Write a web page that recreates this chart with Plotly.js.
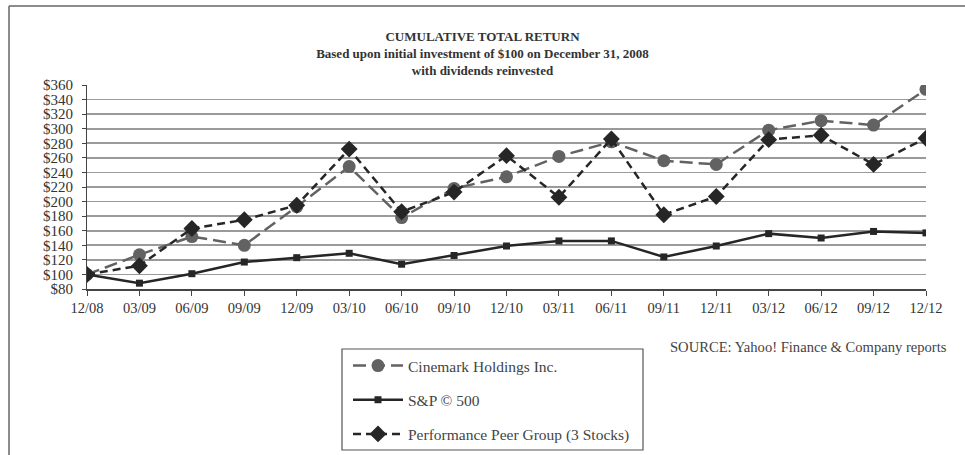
<!DOCTYPE html>
<html>
<head>
<meta charset="utf-8">
<script src="https://cdn.plot.ly/plotly-3.0.1.min.js"></script>
<style>
html,body{margin:0;padding:0;background:#fff;}
#chart{width:965px;height:455px;}
</style>
</head>
<body>
<div id="chart"></div>
<script>
const periods = ["12/08","03/09","06/09","09/09","12/09","03/10","06/10","09/10","12/10","03/11","06/11","09/11","12/11","03/12","06/12","09/12","12/12"];
const cinemark = [100,127,152,140,193,248,178,218,234,262,282,256,251,298,311,305,354];
const sp500 = [100,88,101,117,123,129,114,126,139,146,146,124,139,156,150,159,157];
const peerGroup = [100,112,163,175,195,272,186,213,263,206,286,182,207,285,291,251,287];
const yTickVals = [80,100,120,140,160,180,200,220,240,260,280,300,320,340,360];
const yTickText = yTickVals.map(v => "$" + v);

const W = 965, H = 455;
const L = 87, R = 926, T = 85, B = 289;
const px = x => (x - L) / (R - L);
const py = y => (B - y) / (B - T);

const serif = "Liberation Serif, Times New Roman, serif";

const traces = [
  {
    x: periods, y: cinemark, name: "Cinemark Holdings Inc.", type: "scatter", mode: "lines+markers",
    line: {color: "#626262", width: 2.5, dash: "13px,6px"},
    marker: {symbol: "circle", size: 13, color: "#626262"},
    legendgroup: "a"
  },
  {
    x: periods, y: sp500, name: "S&P © 500", type: "scatter", mode: "lines+markers",
    line: {color: "#262626", width: 2.5},
    marker: {symbol: "square", size: 7, color: "#262626"},
    legendgroup: "b"
  },
  {
    x: periods, y: peerGroup, name: "Performance Peer Group (3 Stocks)", type: "scatter", mode: "lines+markers",
    line: {color: "#262626", width: 2.5, dash: "8px,5px"},
    marker: {symbol: "diamond", size: 13, color: "#262626"},
    legendgroup: "c"
  }
];

const layout = {
  width: W, height: H,
  margin: {l: L, r: W - R, t: T, b: H - B, pad: 0, autoexpand: false},
  paper_bgcolor: "#fff", plot_bgcolor: "#fff",
  font: {family: serif, size: 14, color: "#333"},
  title: {
    text: "<b>CUMULATIVE TOTAL RETURN</b><br><b>Based upon initial investment of $100 on December 31, 2008</b><br><b>with dividends reinvested</b>",
    font: {family: serif, size: 13, color: "#333"},
    x: 0.5, xref: "container", xanchor: "center",
    y: 1 - 41 / H, yref: "container", yanchor: "top"
  },
  xaxis: {
    type: "category", range: [0, 16], showgrid: false, zeroline: false,
    showline: true, linecolor: "#444", linewidth: 1.5,
    ticks: "outside", ticklen: 5, tickcolor: "#444", tickwidth: 1,
    tickfont: {family: serif, size: 14.5, color: "#333"},
    fixedrange: true
  },
  yaxis: {
    range: [80, 360], tickvals: yTickVals, ticktext: yTickText,
    showgrid: true, gridcolor: "#9a9a9a", gridwidth: 1.6, zeroline: false,
    showline: true, linecolor: "#444", linewidth: 1,
    ticks: "outside", ticklen: 4, tickcolor: "#444", ticklabelstandoff: 6,
    tickfont: {family: serif, size: 15, color: "#333"},
    fixedrange: true
  },
  showlegend: true,
  legend: {
    x: px(348), y: py(349), xanchor: "left", yanchor: "top",
    bgcolor: "rgba(0,0,0,0)", borderwidth: 0,
    font: {family: serif, size: 15.5, color: "#444"},
    traceorder: "grouped", tracegroupgap: 11, itemwidth: 50
  },
  shapes: [
    {type: "rect", xref: "paper", yref: "paper", x0: px(342), x1: px(643), y0: py(349), y1: py(450),
     line: {color: "#555", width: 1.2}, fillcolor: "rgba(0,0,0,0)"},
    {type: "line", xref: "paper", yref: "paper", x0: px(9), x1: px(965), y0: py(6), y1: py(6),
     line: {color: "#666", width: 1.5}},
    {type: "line", xref: "paper", yref: "paper", x0: px(9), x1: px(9), y0: py(6), y1: py(455),
     line: {color: "#666", width: 1.5}}
  ],
  annotations: [
    {text: "SOURCE: Yahoo! Finance & Company reports", xref: "paper", yref: "paper",
     x: px(668), y: py(347), xanchor: "left", yanchor: "middle", showarrow: false,
     font: {family: serif, size: 14.6, color: "#444"}}
  ]
};

Plotly.newPlot("chart", traces, layout, {displayModeBar: false, staticPlot: true});
</script>
</body>
</html>
